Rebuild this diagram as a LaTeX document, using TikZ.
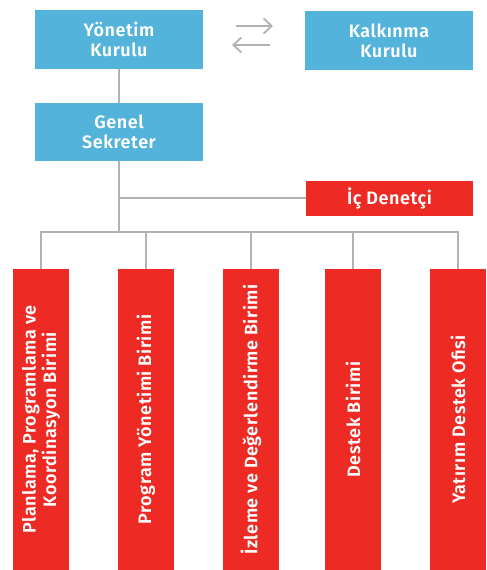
\documentclass[tikz,border=0pt]{standalone}
\usepackage{fontspec}
\setmainfont{Fira Sans}[BoldFont={Fira Sans SemiBold},LetterSpace=3]
\usetikzlibrary{arrows.meta}
\definecolor{kurulblue}{HTML}{53B3DA}
\definecolor{birimred}{HTML}{EE2A24}
\definecolor{lineg}{HTML}{B1B1B6}
\begin{document}
\begin{tikzpicture}[x=1pt,y=1pt,
	bluebox/.style={fill=kurulblue,text=white,font=\fontsize{18}{20}\selectfont\bfseries,align=center,minimum width=168pt,inner sep=0pt},
	redbox/.style={fill=birimred,text=white,font=\fontsize{18}{20.5}\selectfont\bfseries,align=center,inner sep=0pt},
	unitbox/.style={redbox,rotate=90,minimum width=301pt,minimum height=56pt},
	link/.style={draw=lineg,line width=2pt},
	swap/.style={draw=lineg,line width=1.8pt,-{Straight Barb[length=8pt,width=15pt]}}]
	% page size
	\useasboundingbox (0,0) rectangle (487,570);
	% councils
	\node[bluebox,minimum height=59pt] (yk) at (119,530.5) {Yönetim\\Kurulu};
	\node[bluebox,minimum height=59pt] (kk) at (389,529.5) {Kalkınma\\Kurulu};
	\node[bluebox,minimum height=58pt] (gs) at (119,438) {Genel\\Sekreter};
	\node[redbox,minimum width=167pt,minimum height=35pt] (id) at (389.5,371.5) {İç Denetçi};
	% units
	\node[unitbox] (pp) at (41,150.5) {Planlama, Programlama ve\\Koordinasyon Birimi};
	\node[unitbox] (py) at (146,150.5) {Program Yönetimi Birimi};
	\node[unitbox] (id2) at (251,150.5) {İzleme ve Değerlendirme Birimi};
	\node[unitbox] (db) at (353,150.5) {Destek Birimi};
	\node[unitbox] (yd) at (458,150.5) {Yatırım Destek Ofisi};
	% two way arrows
	\coordinate (sw1a) at (236,544);
	\coordinate (sw1b) at (273,544);
	\coordinate (sw2a) at (270,525);
	\coordinate (sw2b) at (232,525);
	\draw[swap] (sw1a) -- (sw1b);
	\draw[swap] (sw2a) -- (sw2b);
	% tree lines
	\coordinate (hub) at (119,338);
	\draw[link] (yk) -- (gs);
	\draw[link] (gs) -- (hub);
	\draw[link] (gs.south |- id.west) -- (id);
	\draw[link] (pp.east) |- (hub) -| (yd.east);
	\foreach \u in {py,id2,db}
		\draw[link] (\u.east) -- (\u.east |- hub);
\end{tikzpicture}
\end{document}
